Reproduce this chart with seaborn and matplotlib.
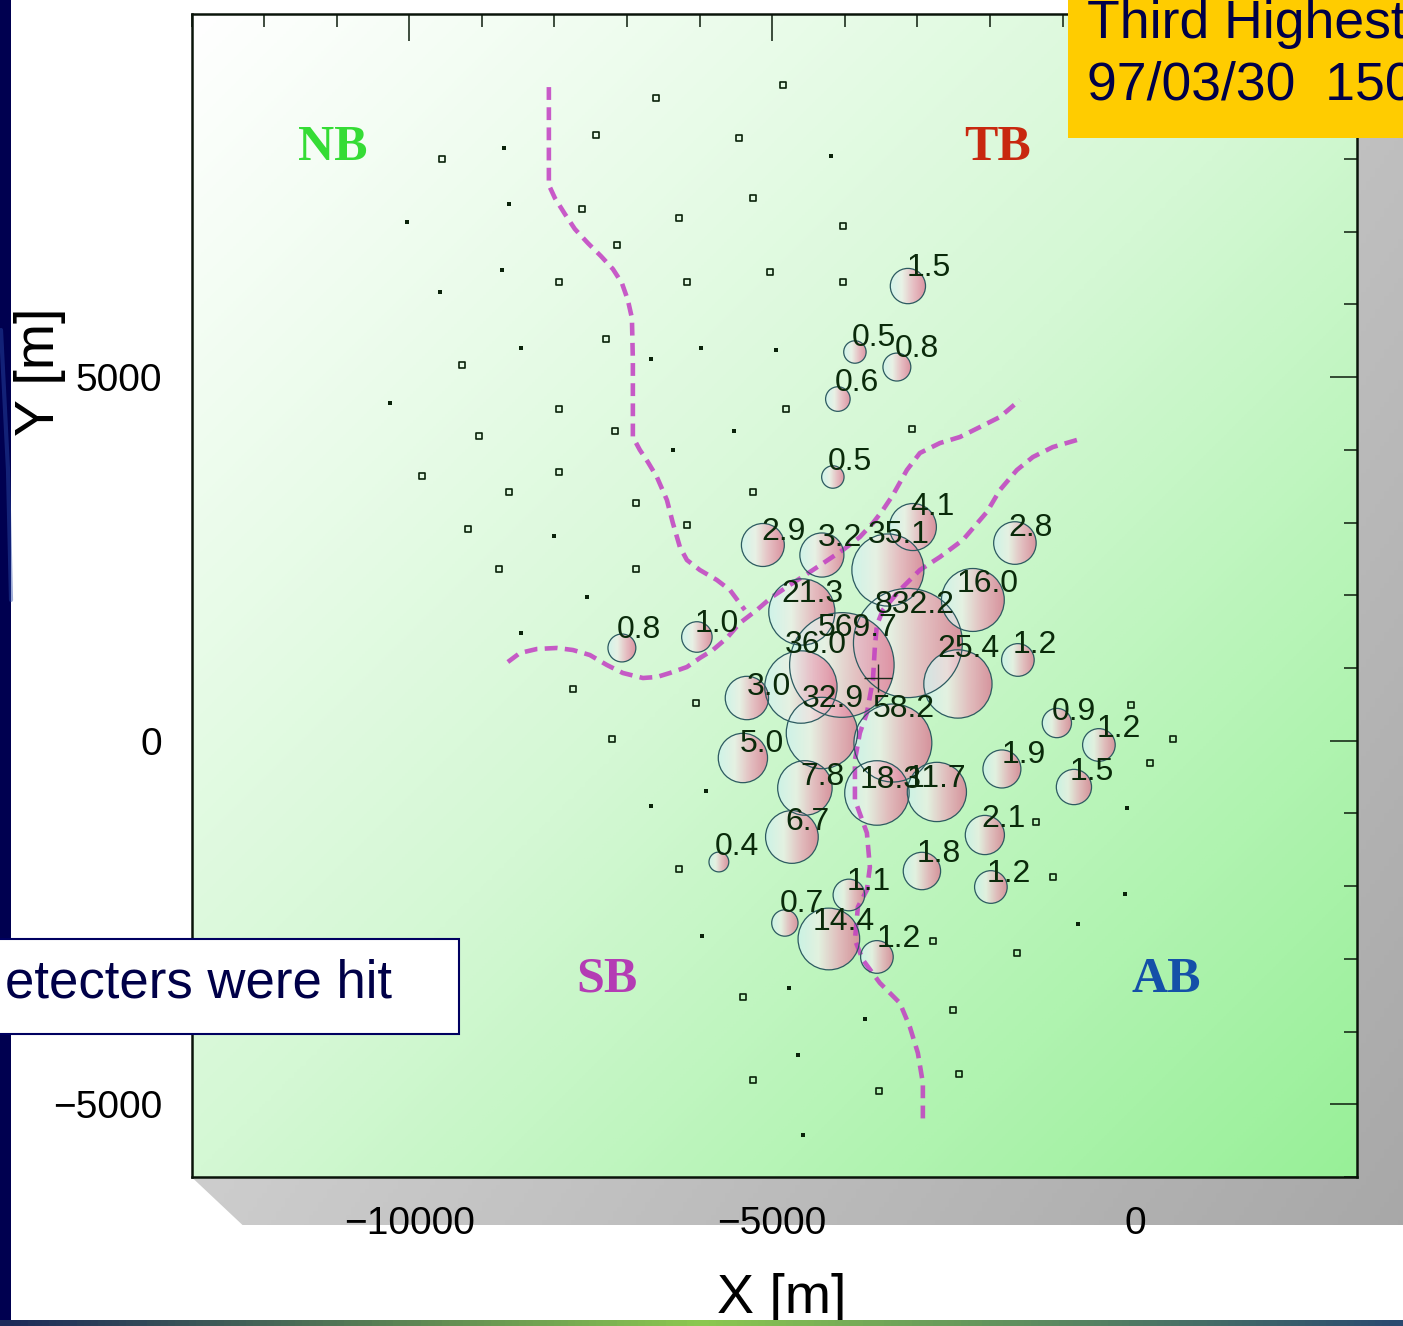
import numpy as np
import matplotlib
matplotlib.use("Agg")
import matplotlib.pyplot as plt
import seaborn as sns
from matplotlib.patches import Circle, Polygon, Rectangle
from matplotlib.colors import LinearSegmentedColormap
from matplotlib.ticker import MultipleLocator

# ---------------------------------------------------------------- data
# detectors that registered particles: position [m] and density label
hit_x = [-3131, -3861, -3283, -4096, -4165, -3062, -5129, -4316, -3407, -1657,
         -4592, -3131, -2236, -4041, -4605, -2442, -1616, -5349, -4316, -3338,
         -1079, -500, -5404, -1836, -844, -4550, -3558, -2732, -2071, -4729,
         -5735, -2938, -1988, -3944, -4826, -4220, -3558, -7071, -6038]
hit_y = [6252, 5345, 5138, 4698, 3626, 2938, 2691, 2553, 2347, 2718,
         1770, 1343, 1935, 1041, 738, 780, 1110, 587, 106, -32,
         243, -59, -238, -389, -637, -650, -719, -705, -1297, -1324,
         -1668, -1792, -2012, -2122, -2507, -2727, -2974, 1275, 1426]
hit_density = [1.5, 0.5, 0.8, 0.6, 0.5, 4.1, 2.9, 3.2, 35.1, 2.8,
               21.3, 832.2, 16.0, 569.7, 36.0, 25.4, 1.2, 3.0, 32.9, 58.2,
               0.9, 1.2, 5.0, 1.9, 1.5, 7.8, 18.3, 11.7, 2.1, 6.7,
               0.4, 1.8, 1.2, 1.1, 0.7, 14.4, 1.2, 0.8, 1.0]

# detectors without a signal
idle_x = [-4853, -6603, -7429, -5459, -9551, -7622, -6286, -5267, -4027, -7140,
          -7939, -6176, -5032, -4027, -7292, -9275, -7939, -4812, -9041, -7168,
          -3076, -5267, -9826, -7939, -8628, -6878, -9193, -6176, -8766, -6878,
          -7746, -6052, -7209, -6286, -5404, -5267, -3531, -59, 519, 203,
          -1368, -1134, -2787, -1630, -2511, -2429]
idle_y = [9016, 8837, 8328, 8287, 7998, 7311, 7187, 7462, 7077, 6816,
          6307, 6307, 6445, 6307, 5523, 5166, 4561, 4561, 4190, 4258,
          4286, 3420, 3640, 3695, 3420, 3268, 2911, 2966, 2361, 2361,
          711, 518, 23, -1764, -3524, -4665, -4817, 491, 23, -307,
          -1118, -1874, -2754, -2919, -3703, -4583]

# detectors marked with a solid point
solid_x = [-8697, -4192, -8628, -10033, -8724, -9578, -8463, -5983, -4950, -6672,
           -10267, -5528, -6369, -8008, -7553, -8463, -5914, -6672, -5969, -4771,
           -4647, -4578, -3724, -114, -142, -789]
solid_y = [8150, 8040, 7380, 7132, 6472, 6170, 5400, 5400, 5372, 5248,
           4643, 4258, 3997, 2815, 1976, 1481, -692, -898, -2685, -3400,
           -4322, -5422, -3827, -925, -2108, -2520]

# branch boundaries [m]
bound_a_x = [-8077, -8077, -7994, -7856, -7719, -7540, -7361, -7195, -7071, -6989,
             -6933, -6920, -6920, -6823, -6713, -6589, -6451, -6369, -6272, -6176,
             -5997, -5763, -5583, -5377]
bound_a_y = [8988, 7641, 7462, 7242, 7036, 6843, 6665, 6486, 6293, 6060,
             5812, 5235, 4176, 3997, 3832, 3626, 3310, 2993, 2663, 2485,
             2347, 2210, 2072, 1797]
bound_b_x = [-8642, -8476, -8242, -7967, -7746, -7512, -7278, -7058, -6782, -6589,
             -6410, -6176, -5997, -5818, -5625, -5446, -5212, -5005, -4757, -4481,
             -4027, -3793, -3613, -3476, -3338, -3145, -2966, -2690, -2415, -2139,
             -1864, -1588]
bound_b_y = [1082, 1206, 1261, 1275, 1247, 1178, 1041, 931, 862, 876,
             931, 1013, 1137, 1247, 1412, 1618, 1797, 1976, 2141, 2320,
             2622, 2801, 2993, 3172, 3378, 3722, 3956, 4093, 4176, 4313,
             4451, 4685]
bound_c_x = [-803, -1134, -1409, -1630, -1864, -2043, -2374, -2690, -2966, -3242,
             -3476, -3558, -3586, -3613, -3696, -3793, -3861, -3861, -3696, -3655,
             -3696, -3820, -3861, -3751, -3517, -3242, -3104, -2994, -2925, -2925]
bound_c_y = [4135, 4038, 3901, 3722, 3447, 3145, 2760, 2526, 2347, 2072,
             1797, 1591, 1288, 835, 381, 106, -265, -815, -1269, -1737,
             -2053, -2287, -2740, -3015, -3332, -3607, -3937, -4294, -4707, -5215]

core_x = [-3545]
core_y = [862]

branch_names = ["NB", "TB", "SB", "AB"]
branch_x = [-11053, -1891, -7278, 423]
branch_y = [8150, 8150, -3290, -3290]
branch_colors = ["#35dc35", "#c8280f", "#b43cb4", "#1450a8"]

# ---------------------------------------------------------------- layout
W, H = 1403, 1326
XLIM = (-13000, 3050)
YLIM = (-6000, 10000)
AX_L, AX_R, AX_T, AX_B = 191.5, 1356.6, 13.5, 1177.0

# label nudges (pixels: right, down) for the density numbers
label_nudge = [(-1, -10), (-3, -6), (-2, -10), (-3, -8), (-5, -7), (-3, -12), (-1, -5),
               (-4, -9), (-20, -27), (-7, -7), (-20, -10), (-33, -30), (-16, -8),
               (-24, -29), (-16, -34), (-21, -27), (-5, -7), (0, -3), (-20, -26),
               (-20, -26), (-5, -3), (-2, -8), (-3, -6), (0, -6), (-4, -7), (-5, -3),
               (-17, -5), (-30, -5), (-3, -8), (-7, -7), (-4, -7), (-5, -9), (-4, -5),
               (-2, -5), (-5, -11), (-16, -9), (0, -10), (-5, -10), (-2, -5)]

sns.set_theme(style="white")
plt.rcParams["font.family"] = ["Liberation Sans", "DejaVu Sans"]
plt.rcParams["axes.unicode_minus"] = True

fig = plt.figure(figsize=(W / 100, H / 100), dpi=100)
fig.patch.set_facecolor("white")

# backdrop in pixel coordinates (slide decoration + drop shadow)
bg = fig.add_axes([0, 0, 1, 1], zorder=0)
bg.set_xlim(0, W)
bg.set_ylim(H, 0)
bg.axis("off")

gx, gy = np.meshgrid(np.linspace(0, 1, 300), np.linspace(0, 1, 300))
shadow_cmap = LinearSegmentedColormap.from_list("shadow", ["#ececec", "#a6a6a6"])
shadow_img = bg.imshow(0.6 * gx + 0.4 * gy, extent=(0, W, H, 0), cmap=shadow_cmap,
                       aspect="auto", zorder=1, vmin=0, vmax=1)
shadow_poly = Polygon([(AX_L, AX_B), (AX_R, AX_B), (AX_R, AX_T), (AX_R + 51, AX_T + 48),
                       (AX_R + 51, AX_B + 48), (AX_L + 51, AX_B + 48)],
                      closed=True, transform=bg.transData, fc="none", ec="none")
bg.add_patch(shadow_poly)
shadow_img.set_clip_path(shadow_poly)

# ---------------------------------------------------------------- main axes
ax = fig.add_axes([AX_L / W, 1 - AX_B / H, (AX_R - AX_L) / W, (AX_B - AX_T) / H], zorder=2)

# field shading: white in the upper left, light green in the lower right
green_cmap = LinearSegmentedColormap.from_list("field", ["#ffffff", "#d4f8d4", "#98f098"])
fx, fy = np.meshgrid(np.linspace(0, 1, 400), np.linspace(0, 1, 400))
ax.imshow((fx + fy) / 2, extent=(XLIM[0], XLIM[1], YLIM[0], YLIM[1]), origin="upper",
          cmap=green_cmap, aspect="auto", zorder=0, vmin=0, vmax=1)

# detectors
sns.scatterplot(x=idle_x, y=idle_y, marker="s", s=18, ax=ax, zorder=3, legend=False,
                color="#0a220a", linewidth=1.2)
idle_pts = ax.collections[-1]
idle_pts.set_facecolor("none")
idle_pts.set_edgecolor("#0a220a")
sns.scatterplot(x=solid_x, y=solid_y, marker="s", s=7, ax=ax, zorder=3, legend=False,
                color="#0a220a", linewidth=0)

# boundaries
for bx, by in [(bound_a_x, bound_a_y), (bound_b_x, bound_b_y), (bound_c_x, bound_c_y)]:
    sns.lineplot(x=bx, y=by, sort=False, estimator=None, ax=ax, color="#c23ec2",
                 lw=3.3, alpha=0.85, zorder=4.5, linestyle=(0, (2.8, 1.6)))

# density bubbles: radius grows with log of the density
bubble_cmap = LinearSegmentedColormap.from_list(
    "bubble", ["#cff3f0", "#eef0ea", "#ebaabb", "#dc7490"])
ramp = np.linspace(0, 1, 64).reshape(1, -1)


def bubble_radius(v):
    return 210.0 + 185.0 * np.log10(v)


for i, (cx, cy, v) in enumerate(zip(hit_x, hit_y, hit_density)):
    r = bubble_radius(v)
    im = ax.imshow(ramp, extent=(cx - r, cx + r, cy - r, cy + r), cmap=bubble_cmap,
                   aspect="auto", alpha=0.76, zorder=4 + i * 0.001, vmin=0, vmax=1)
    clip = Circle((cx, cy), r, transform=ax.transData, fc="none")
    im.set_clip_path(clip)
for cx, cy, v in zip(hit_x, hit_y, hit_density):
    ax.add_patch(Circle((cx, cy), bubble_radius(v), fill=False, ec="#2c5a60",
                        lw=0.9, zorder=5))

for (cx, cy, v), (dx, dy) in zip(zip(hit_x, hit_y, hit_density), label_nudge):
    ax.annotate(f"{v:.1f}", xy=(cx, cy), xytext=(dx, -dy), textcoords="offset pixels",
                ha="left", va="baseline", fontsize=23, color="#0a2a0a", zorder=6)

# shower core
sns.scatterplot(x=core_x, y=core_y, marker="+", s=420, ax=ax, color="#1a2a1a",
                linewidth=1.0, zorder=6, legend=False)

# branch names
for name, bx, by, bc in zip(branch_names, branch_x, branch_y, branch_colors):
    ax.text(bx, by, name, ha="center", va="center", fontsize=36, fontweight="bold",
            family=["Liberation Serif", "DejaVu Serif"], color=bc, zorder=6)

ax.set_xlim(*XLIM)
ax.set_ylim(*YLIM)
ax.set_xticks([-10000, -5000, 0])
ax.set_yticks([-5000, 0, 5000])
ax.xaxis.set_minor_locator(MultipleLocator(1000))
ax.yaxis.set_minor_locator(MultipleLocator(1000))
ax.tick_params(which="both", direction="in", top=True, right=True, color="#0c1c0c")
ax.tick_params(which="major", length=19.5, width=1.1, labelsize=28, labelcolor="black")
ax.tick_params(which="minor", length=9.5, width=1.1)
ax.tick_params(axis="x", pad=21)
ax.tick_params(axis="y", pad=21)
for sp in ax.spines.values():
    sp.set_linewidth(1.8)
    sp.set_color("#0a140a")
ax.set_xlabel("")
ax.set_ylabel("")

fig.text(782 / W, 1 - 1299 / H, "X [m]", ha="center", va="center", fontsize=40, color="black")
fig.text(40 / W, 1 - 372 / H, "Y [m]", ha="center", va="center", rotation=90,
         fontsize=40, color="black")

# ---------------------------------------------------------------- slide overlays
top = fig.add_axes([0, 0, 1, 1], zorder=5)
top.set_xlim(0, W)
top.set_ylim(H, 0)
top.axis("off")
top.patch.set_alpha(0)

top.add_patch(Rectangle((0, 0), 11, 1320, fc="#000050", ec="none", zorder=1))
top.plot([1, 8, 11], [330, 470, 600], color="#2a4aa8", lw=3, alpha=0.45, zorder=1.5)

strip = np.linspace(0, 1, 200).reshape(1, -1)
strip_cmap = LinearSegmentedColormap.from_list("strip", ["#1c2a5a", "#8cc850", "#2a4a70"])
top.imshow(strip, extent=(0, W, H, 1320), cmap=strip_cmap, aspect="auto", zorder=1)

top.add_patch(Rectangle((1068, -5), 345, 143, fc="#ffcc00", ec="none", zorder=2))
top.text(1087, 38, "Third Highest", fontsize=38.5, color="#000048", va="baseline",
         ha="left", zorder=3)
top.text(1087, 100, "97/03/30  150", fontsize=38.5, color="#000048", va="baseline",
         ha="left", zorder=3)

top.add_patch(Rectangle((-5, 939), 464, 95, fc="white", ec="#000060", lw=1.5, zorder=2))
top.text(5, 998, "etecters were hit", fontsize=38, color="#000048", va="baseline",
         ha="left", zorder=3)

top.set_xlim(0, W)
top.set_ylim(H, 0)

fig.savefig("out.png", dpi=100)
